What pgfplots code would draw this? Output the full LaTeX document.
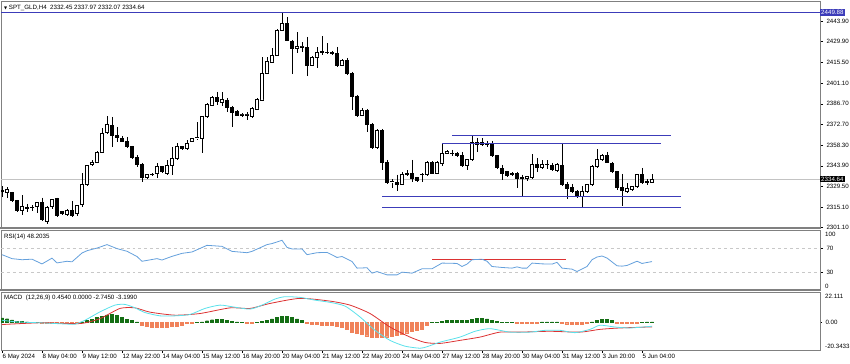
\documentclass[border=0pt]{standalone}
\usepackage{pgfplots}
\pgfplotsset{compat=1.18}
\usepackage{pgfplotstable}
\usepgfplotslibrary{statistics}
\usepackage{fontspec}
\setmainfont{Liberation Sans}
\newfontfamily\dejavu{DejaVu Sans}
\definecolor{lvl}{RGB}{60,60,185}
\definecolor{rsiblue}{RGB}{100,160,220}
\definecolor{macdcyan}{RGB}{90,225,235}
\definecolor{sigred}{RGB}{220,50,50}
\definecolor{hgreen}{RGB}{20,110,20}
\definecolor{hsalmon}{RGB}{240,130,90}
\definecolor{framec}{RGB}{128,128,128}
\newcommand\tfont{\fontsize{6.2}{7}\selectfont}

\pgfplotstableread{
i O H L C
0 2325.9 2330.1 2322.5 2326.6
1 2325.2 2329.4 2321.8 2327.3
2 2325.2 2325.9 2319.0 2319.7
3 2319.7 2320.4 2312.1 2312.8
4 2312.8 2323.9 2310.1 2315.6
5 2314.9 2317.6 2312.1 2314.6
6 2314.9 2317.0 2312.8 2315.2
7 2315.6 2319.0 2311.4 2318.3
8 2318.3 2321.8 2305.9 2306.6
9 2305.2 2316.3 2303.8 2314.9
10 2315.6 2321.1 2314.2 2320.4
11 2321.1 2321.8 2308.7 2309.4
12 2312.1 2312.8 2310.1 2310.7
13 2310.1 2314.2 2309.4 2312.8
14 2312.8 2319.7 2308.7 2309.4
15 2310.7 2317.0 2309.4 2316.3
16 2317.0 2339.0 2315.6 2330.8
17 2331.4 2344.6 2330.1 2343.9
18 2344.6 2348.0 2343.9 2346.6
19 2346.6 2354.2 2345.9 2353.5
20 2353.5 2370.1 2352.8 2366.6
21 2367.3 2378.4 2365.9 2372.8
22 2372.1 2377.7 2357.0 2364.6
23 2364.6 2370.8 2360.4 2363.2
24 2362.5 2364.6 2360.4 2361.1
25 2361.1 2363.9 2356.3 2357.0
26 2357.0 2357.7 2348.7 2349.4
27 2349.4 2351.4 2343.2 2345.2
28 2345.2 2345.9 2332.8 2335.6
29 2335.6 2338.3 2334.9 2337.7
30 2337.7 2339.0 2337.0 2338.3
31 2339.0 2345.9 2335.6 2343.2
32 2343.2 2343.9 2339.0 2339.7
33 2339.0 2348.0 2337.7 2343.9
34 2343.9 2357.0 2337.7 2348.7
35 2348.7 2359.7 2348.0 2357.0
36 2357.0 2357.7 2354.9 2355.6
37 2355.6 2361.8 2354.9 2359.7
38 2361.1 2363.2 2360.4 2362.5
39 2363.2 2374.2 2361.8 2363.4
40 2362.5 2378.4 2352.8 2377.7
41 2377.7 2387.3 2377.0 2386.6
42 2385.9 2392.2 2385.3 2391.5
43 2391.5 2394.9 2385.9 2388.7
44 2388.0 2394.9 2385.3 2390.1
45 2389.4 2390.8 2381.1 2384.6
46 2384.6 2385.3 2370.8 2381.1
47 2381.8 2382.5 2378.4 2379.0
48 2379.0 2380.4 2377.7 2379.2
49 2379.0 2381.1 2375.6 2379.3
50 2377.7 2384.6 2377.0 2383.9
51 2383.2 2390.8 2382.5 2390.1
52 2389.4 2419.1 2388.7 2408.0
53 2408.0 2419.1 2407.3 2416.3
54 2415.6 2425.3 2414.9 2420.4
55 2420.4 2438.4 2419.8 2437.7
56 2437.7 2449.88 2437.0 2442.5
57 2442.5 2446.7 2430.1 2430.8
58 2430.1 2430.8 2407.3 2425.3
59 2425.3 2436.3 2421.8 2426.7
60 2426.0 2429.4 2422.5 2426.2
61 2426.0 2432.9 2405.9 2413.6
62 2413.6 2419.8 2412.9 2419.1
63 2419.1 2426.0 2411.5 2422.5
64 2422.5 2433.6 2420.4 2422.7
65 2422.5 2428.7 2421.1 2422.3
66 2422.5 2423.2 2420.4 2421.8
67 2421.8 2426.0 2412.2 2413.6
68 2413.6 2417.7 2412.9 2417.0
69 2417.0 2418.4 2406.6 2408.0
70 2408.0 2408.7 2382.5 2392.2
71 2392.2 2392.9 2377.7 2379.0
72 2379.0 2383.9 2378.4 2382.5
73 2382.5 2383.2 2367.3 2372.8
74 2372.8 2373.5 2355.6 2356.3
75 2356.3 2369.4 2355.6 2368.7
76 2368.7 2369.4 2341.1 2346.6
77 2346.6 2348.0 2331.4 2332.1
78 2332.8 2334.9 2328.7 2333.0
79 2332.1 2337.7 2326.6 2331.4
80 2331.4 2339.7 2330.8 2338.3
81 2337.7 2341.1 2337.0 2339.0
82 2339.0 2348.0 2332.8 2334.9
83 2335.6 2336.3 2332.8 2333.5
84 2337.7 2339.0 2332.8 2337.9
85 2337.7 2347.3 2337.0 2346.6
86 2346.6 2347.3 2338.3 2339.0
87 2339.0 2347.3 2338.3 2346.6
88 2345.9 2359.0 2343.9 2352.8
89 2352.8 2354.9 2352.1 2354.2
90 2352.8 2354.9 2350.8 2352.6
91 2352.8 2353.5 2350.1 2350.8
92 2351.4 2353.5 2343.2 2343.9
93 2343.9 2348.7 2341.1 2348.0
94 2348.0 2364.6 2347.3 2360.4
95 2360.4 2363.2 2353.5 2358.4
96 2358.4 2363.2 2357.7 2360.4
97 2359.7 2361.1 2357.0 2359.0
98 2359.0 2361.1 2350.1 2350.8
99 2350.8 2351.4 2341.8 2342.5
100 2341.8 2344.6 2334.2 2339.0
101 2339.7 2340.4 2336.3 2337.0
102 2337.7 2339.7 2337.0 2339.0
103 2339.0 2339.7 2328.7 2334.9
104 2335.6 2337.7 2322.5 2335.4
105 2334.9 2337.0 2333.5 2336.3
106 2335.6 2352.1 2334.9 2344.6
107 2344.6 2349.4 2339.7 2342.5
108 2342.5 2348.0 2341.8 2344.6
109 2344.6 2348.0 2341.8 2344.8
110 2343.9 2345.9 2340.4 2341.1
111 2340.4 2345.9 2339.7 2345.2
112 2343.9 2359.7 2330.1 2330.8
113 2330.8 2332.8 2321.1 2328.0
114 2328.7 2331.4 2325.2 2325.9
115 2325.9 2327.3 2321.8 2322.5
116 2322.5 2330.1 2315.6 2325.9
117 2325.9 2331.4 2325.2 2330.8
118 2330.8 2344.6 2330.1 2343.2
119 2343.2 2355.6 2342.5 2348.0
120 2348.0 2352.1 2347.3 2351.4
121 2351.4 2353.5 2345.9 2346.6
122 2345.9 2346.6 2339.0 2339.7
123 2339.7 2340.4 2327.3 2328.7
124 2328.7 2338.3 2316.3 2326.6
125 2325.9 2332.1 2325.2 2328.0
126 2327.3 2330.1 2326.6 2329.4
127 2329.4 2338.3 2328.7 2337.7
128 2337.7 2342.5 2331.4 2332.1
129 2332.8 2334.9 2330.8 2332.5
130 2332.45 2337.97 2332.07 2334.64
}\candles

\pgfplotstableread{
i h
0 3.3
1 2.7
2 1.8
3 1.0
4 0.6
5 0.4
6 0.3
7 0.3
8 -0.4
9 -0.5
10 -0.5
11 -0.6
12 -0.7
13 -0.7
14 -0.6
15 -0.3
16 0.5
17 1.6
18 2.5
19 3.5
20 4.6
21 5.6
22 5.8
23 5.2
24 3.5
25 2.5
26 1.5
27 0.5
28 -1.8
29 -2.8
30 -3.2
31 -3.4
32 -3.4
33 -3.3
34 -3.0
35 -2.6
36 -2.0
37 -0.5
38 -0.3
39 0.3
40 0.4
41 1.3
42 2.0
43 2.2
44 2.1
45 1.7
46 0.9
47 0.4
48 0.3
49 -0.5
50 -0.5
51 0.3
52 0.8
53 1.6
54 2.6
55 3.5
56 4.5
57 4.4
58 3.6
59 2.6
60 1.5
61 -0.5
62 -1.2
63 -1.5
64 -1.8
65 -2.0
66 -2.3
67 -3.0
68 -3.6
69 -4.8
70 -6.9
71 -8.0
72 -8.8
73 -9.6
74 -10.4
75 -10.6
76 -10.5
77 -10.3
78 -9.8
79 -9.0
80 -8.2
81 -7.4
82 -6.5
83 -5.8
84 -5.2
85 -2.0
86 0.3
87 0.3
88 0.6
89 1.4
90 1.5
91 1.5
92 1.4
93 1.7
94 2.5
95 3.0
96 3.1
97 2.6
98 1.6
99 0.7
100 0.3
101 0.3
102 0.3
103 -0.4
104 -0.5
105 -0.5
106 -0.5
107 -0.4
108 0.4
109 0.5
110 0.5
111 0.4
112 -0.6
113 -0.9
114 -1.1
115 -1.2
116 -1.0
117 -0.5
118 0.5
119 1.5
120 2.2
121 2.1
122 1.4
123 -0.4
124 -0.5
125 -0.5
126 -0.4
127 -0.3
128 0.3
129 0.4
130 0.454
}\hist

\pgfplotsset{
  panel/.style={scale only axis, width=819bp, xmin=-0.2, xmax=163.6,
    axis line style={framec, line width=0.8bp},
    tick style={black, line width=0.5bp}, tick align=outside, major tick length=3bp,
    ticklabel style={font=\tfont}, /pgf/number format/assume math mode=true,
    ytick pos=right, yticklabel pos=right, clip mode=individual},
  level/.style={draw=lvl, color=lvl, line width=1bp, mark=none},
}

\begin{document}
\begin{tikzpicture}
\path[use as bounding box] (0,0) rectangle (850bp,364bp);

% ---------- price panel ----------
\begin{axis}[panel, at={(1bp,136bp)}, anchor=south west, height=226.5bp,
  ymin=2300.9, ymax=2457.4, xtick=\empty,
  ytick={2301.1,2315.1,2329.5,2343.9,2358.3,2372.7,2386.7,2401.1,2415.5,2429.9,2443.9},
  yticklabels={2301.10,2315.10,2329.50,2343.90,2358.30,2372.70,2386.70,2401.10,2415.50,2429.90,2443.90}]
\addplot[draw={rgb,255:red,195;green,195;blue,195}, line width=0.7bp] coordinates {(-0.2,2334.64) (163.6,2334.64)};
\pgfplotsinvokeforeach{0,...,130}{
  \pgfplotstablegetelem{#1}{O}\of\candles \let\candO\pgfplotsretval
  \pgfplotstablegetelem{#1}{C}\of\candles \let\candC\pgfplotsretval
  \pgfplotstablegetelem{#1}{H}\of\candles \let\candH\pgfplotsretval
  \pgfplotstablegetelem{#1}{L}\of\candles \let\candL\pgfplotsretval
  \pgfmathtruncatemacro\candup{\candC>=\candO}
  \ifnum\candup=1
    \def\cfill{white}\let\cLo\candO\let\cHi\candC
  \else
    \def\cfill{black}\let\cLo\candC\let\cHi\candO
  \fi
  \edef\docandle{\noexpand\addplot[draw=black, fill=\cfill, line width=0.7bp,
    boxplot prepared={draw direction=y, draw position=#1, lower whisker=\candL, upper whisker=\candH,
      lower quartile=\cLo, upper quartile=\cHi, median=\cLo,
      box extend=0.7, whisker extend=0}] coordinates {};}
  \docandle
}
\addplot[level] coordinates {(-0.2,2449.88) (163.6,2449.88)};
\addplot[level] coordinates {(90,2364.8) (133.8,2364.8)};
\addplot[level] coordinates {(88,2359.3) (131.8,2359.3)};
\addplot[level] coordinates {(76,2322.7) (135.8,2322.7)};
\addplot[level] coordinates {(76,2315.1) (135.8,2315.1)};
\node[fill=lvl, text=white, inner sep=1bp, anchor=west, font=\tfont] at (axis cs:163.6,2449.88) {2449.88};
\node[fill=black, text=white, inner sep=1bp, anchor=west, font=\tfont] at (axis cs:163.6,2334.64) {2334.64};
\node[anchor=north west, font=\tfont, inner sep=0pt, xshift=3bp, yshift=-3bp] at (rel axis cs:0,1)
  {{\dejavu\fontsize{4}{4}\selectfont ▼}\ SPT\_GLD,H4\ \ 2332.45 2337.97 2332.07 2334.64};
\end{axis}

% ---------- RSI panel ----------
\begin{axis}[panel, at={(1bp,73.5bp)}, anchor=south west, height=60bp,
  ymin=0, ymax=100, xtick=\empty, ytick={30,70}, yticklabels={30,70}]
\addplot[draw={rgb,255:red,200;green,200;blue,200}, dashed, line width=0.5bp] coordinates {(-0.2,70) (163.6,70)};
\addplot[draw={rgb,255:red,200;green,200;blue,200}, dashed, line width=0.5bp] coordinates {(-0.2,30) (163.6,30)};
\addplot[draw=sigred, color=sigred, line width=0.9bp] coordinates {(86,51.7) (112.8,51.7)};
\addplot[draw=rsiblue, line width=0.8bp] coordinates {
(0,59.7) (2,53.1) (4,51.3) (6,52.2) (8,44.3) (10,53.9) (11,46.0) (13,48.7) (14,47.8)
(16,62.5) (17,66.3) (19,70.7) (21,76.5) (23,69.8) (25,65.4) (27,56.6) (28,48.7) (31,53.1)
(32,50.8) (34,56.9) (36,61.9) (38,64.2) (41,75.3) (44,73.6) (46,65.2) (49,63.0) (50,65.2)
(53,76.5) (54,78.2) (56,83.7) (57,71.9) (58,69.3) (60,69.3) (61,59.7) (63,63.0) (65,63.5)
(67,55.1) (68,56.6) (70,48.4) (71,37.3) (73,37.9) (74,28.9) (75,31.6) (77,26.0) (79,26.0)
(80,30.6) (82,28.9) (84,36.2) (86,36.2) (88,45.7) (91,45.1) (92,40.0) (93,44.0) (94,51.3)
(96,52.1) (97,48.8) (98,40.0) (100,38.4) (102,37.3) (103,39.4) (104,37.3) (105,37.3)
(106,45.7) (108,44.4) (110,44.0) (111,46.9) (112,37.3) (114,35.6) (115,31.6) (117,40.0)
(118,51.3) (119,55.8) (120,57.5) (121,54.1) (123,41.2) (124,40.6) (125,41.7) (127,48.8)
(128,45.1) (129,46.7) (130,48.2)};
\node[anchor=west, font=\tfont, inner sep=0pt, xshift=5bp] at (axis cs:163.6,93.5) {100};
\node[anchor=west, font=\tfont, inner sep=0pt, xshift=5bp] at (axis cs:163.6,6.5) {0};
\node[anchor=north west, font=\tfont, inner sep=0pt, xshift=3bp, yshift=-3bp] at (rel axis cs:0,1) {RSI(14) 48.2035};
\end{axis}

% ---------- MACD panel ----------
\begin{axis}[panel, at={(1bp,13.5bp)}, anchor=south west, height=58.5bp,
  ymin=-20.3433, ymax=22.111, ytick={0}, yticklabels={0.00},
  xtick={0,8,...,128}, xtick pos=bottom, major tick length=2bp,
  xticklabels={6 May 2024,8 May 04:00,9 May 12:00,12 May 22:00,14 May 04:00,15 May 12:00,16 May 20:00,20 May 04:00,21 May 12:00,22 May 20:00,24 May 04:00,27 May 12:00,28 May 20:00,30 May 04:00,31 May 12:00,3 Jun 20:00,5 Jun 04:00},
  xticklabel style={anchor=north west, xshift=-1bp, inner sep=1.5bp}]
\addplot[ybar, bar width=3bp, bar shift=0pt, fill=hgreen, draw=hgreen, line width=0.3bp,
  restrict y to domain=0:40] table[x=i, y=h] {\hist};
\addplot[ybar, bar width=3bp, bar shift=0pt, fill=hsalmon, draw=hsalmon, line width=0.3bp,
  restrict y to domain=-40:0] table[x=i, y=h] {\hist};
\addplot[draw=sigred, line width=0.8bp, smooth, tension=0.4] coordinates {
(0,-1.5) (8,-0.2) (15.6,-0.8) (19.6,2.8) (23.6,10.2) (26.6,10.6) (29.6,7.5) (34.6,5.3)
(39.6,6.5) (45.6,10.6) (49.6,10.2) (53.6,13.8) (59.6,17.5) (65.6,15.5) (69.6,12.6)
(73.6,6.5) (77.6,-3.3) (81.6,-10.6) (84.6,-14.5) (87.6,-15.2) (91.6,-13) (95.6,-10.6)
(99.6,-7) (103.6,-7) (109.6,-6.4) (115.6,-7) (119.6,-5) (123.6,-4) (130,-3.199)};
\addplot[draw=macdcyan, line width=0.8bp, smooth, tension=0.4] coordinates {
(0,1.6) (3,0.4) (8,-0.3) (14,-1.3) (15,-0.8) (16.6,1.6) (19.6,7.7) (22.6,12.6) (24.6,13.1)
(26.6,10.6) (28.6,7.2) (31.6,4.8) (34.6,4.8) (37.6,5.8) (40.6,10.2) (43.6,12.6) (46.2,11.3)
(49.6,9.7) (52,12.6) (54.6,17) (56.6,18.7) (59.6,18.2) (62.6,16.2) (65.6,14.6) (68.6,11.9)
(71.6,4.0) (74.6,-5.7) (77.6,-13) (80.6,-17.2) (83.6,-18.7) (85,-17.6) (87.6,-14.3)
(91.6,-10.6) (94.6,-6.4) (97.6,-4.5) (101.6,-7) (105.6,-7) (108.6,-5.7) (111.6,-5.7)
(114.6,-7.4) (117.6,-5) (119.6,-2) (122.6,-3.3) (125.6,-4) (130,-2.745)};
\node[anchor=west, font=\tfont, inner sep=0pt, xshift=5bp] at (axis cs:163.6,18.6) {22.111};
\node[anchor=west, font=\tfont, inner sep=0pt, xshift=5bp] at (axis cs:163.6,-17.4) {-20.3433};
\node[anchor=north west, font=\tfont, inner sep=0pt, xshift=3bp, yshift=-3bp] at (rel axis cs:0,1) {MACD\ \ (12,26,9) 0.4540 0.0000 -2.7450 -3.1990};
\end{axis}

% panel separators
\fill[framec] (0bp,134.5bp) rectangle (821bp,137bp);
\fill[framec] (0bp,72.5bp) rectangle (821bp,75bp);
\end{tikzpicture}
\end{document}
